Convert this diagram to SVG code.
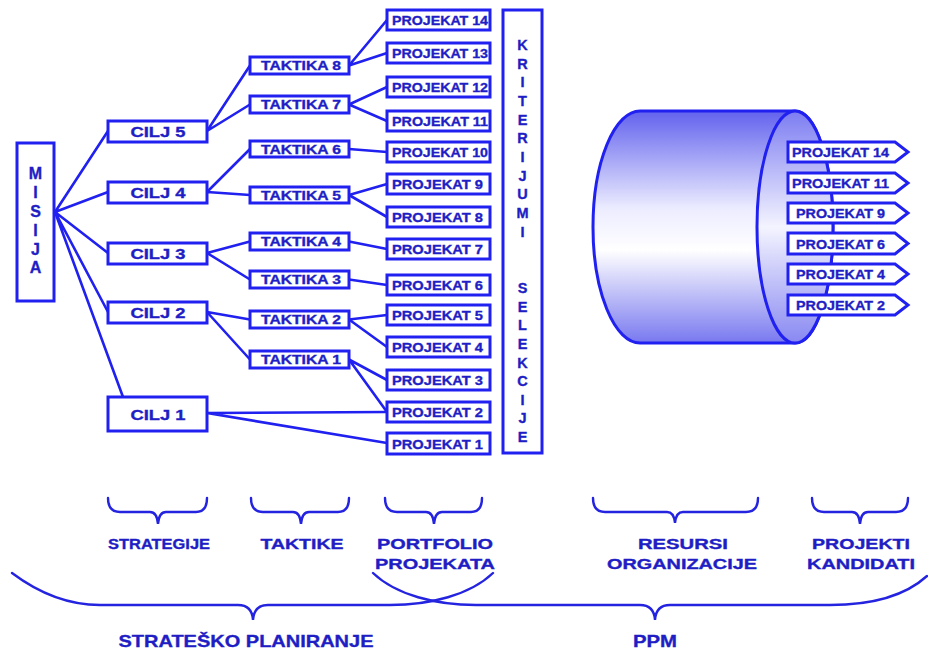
<svg xmlns="http://www.w3.org/2000/svg" width="928" height="650" viewBox="0 0 928 650">
<style>
.box{fill:#fff;stroke:#2020f0;stroke-width:3}
.ln{fill:none;stroke:#2020f0;stroke-width:2.6;stroke-linecap:round}
.br{fill:none;stroke:#2424e0;stroke-width:2.4;stroke-linecap:round}
text{font-family:"Liberation Sans",Arial,sans-serif;font-weight:bold;fill:#1e1ec4;stroke:#1e1ec4;stroke-width:0.35}
.c{text-anchor:middle}
.cl{font-size:15px}
.tk{font-size:13px}
.pr{font-size:13.5px}
.lt{font-size:16px;text-anchor:middle}
.lb{font-size:14.5px;text-anchor:middle}
.big{font-size:17px;text-anchor:middle}
</style>
<defs>
<linearGradient id="cyl" x1="0" y1="0" x2="0" y2="1">
<stop offset="0" stop-color="#6262ee"/>
<stop offset="0.42" stop-color="#ececff"/>
<stop offset="0.6" stop-color="#ffffff"/>
<stop offset="1" stop-color="#7878f0"/>
</linearGradient>
<linearGradient id="face" x1="0" y1="0" x2="0" y2="1">
<stop offset="0" stop-color="#7c7cf2"/>
<stop offset="0.5" stop-color="#f4f4ff"/>
<stop offset="1" stop-color="#8888f2"/>
</linearGradient>
</defs>

<g id="connectors">
<path class="ln" d="M55,212 L108,131 M55,212 L108,192 M55,212 L108,253 M55,212 L108,312 M55,212 L123,397"/>
<path class="ln" d="M207,131 L250,65.5 M207,131 L250,104.5 M207,192 L250,149 M207,192 L250,195 M207,253 L250,241.5 M207,253 L250,279.5 M207,312 L250,319.5 M207,312 L250,359.5 M207,413 L387,412 M207,413 L387,443"/>
<path class="ln" d="M349,65.5 L387,20 M349,65.5 L387,53 M349,104.5 L387,87 M349,104.5 L387,121 M349,149 L387,152 M349,195 L387,184 M349,195 L387,217 M349,241.5 L387,249 M349,279.5 L387,285 M349,319.5 L387,315 M349,319.5 L387,347 M349,359.5 L387,380 M349,359.5 L387,412"/>
</g>

<g id="misija">
<rect class="box" x="17" y="143" width="37" height="158"/>
<text class="lt" x="35.5" y="179">M</text>
<text class="lt" x="35.5" y="198">I</text>
<text class="lt" x="35.5" y="217">S</text>
<text class="lt" x="35.5" y="236">I</text>
<text class="lt" x="35.5" y="255">J</text>
<text class="lt" x="35.5" y="273">A</text>
</g>

<g id="cilj5"><rect class="box" x="108" y="121" width="99" height="21"/><text class="cl c" x="158" y="137" textLength="55" lengthAdjust="spacingAndGlyphs">CILJ 5</text></g>
<g id="cilj4"><rect class="box" x="108" y="182" width="99" height="21"/><text class="cl c" x="158" y="198" textLength="55" lengthAdjust="spacingAndGlyphs">CILJ 4</text></g>
<g id="cilj3"><rect class="box" x="108" y="243" width="99" height="21"/><text class="cl c" x="158" y="259" textLength="55" lengthAdjust="spacingAndGlyphs">CILJ 3</text></g>
<g id="cilj2"><rect class="box" x="108" y="302" width="99" height="21"/><text class="cl c" x="158" y="318" textLength="55" lengthAdjust="spacingAndGlyphs">CILJ 2</text></g>
<g id="cilj1"><rect class="box" x="108" y="397" width="99" height="34"/><text class="cl c" x="158" y="419.5" textLength="55" lengthAdjust="spacingAndGlyphs">CILJ 1</text></g>

<g id="taktika8"><rect class="box" x="250" y="57" width="99" height="17"/><text class="tk c" x="301" y="70" textLength="80" lengthAdjust="spacingAndGlyphs">TAKTIKA 8</text></g>
<g id="taktika7"><rect class="box" x="250" y="96" width="99" height="17"/><text class="tk c" x="301" y="109" textLength="80" lengthAdjust="spacingAndGlyphs">TAKTIKA 7</text></g>
<g id="taktika6"><rect class="box" x="250" y="141" width="99" height="16"/><text class="tk c" x="301" y="153.5" textLength="80" lengthAdjust="spacingAndGlyphs">TAKTIKA 6</text></g>
<g id="taktika5"><rect class="box" x="250" y="187" width="99" height="16"/><text class="tk c" x="301" y="199.5" textLength="80" lengthAdjust="spacingAndGlyphs">TAKTIKA 5</text></g>
<g id="taktika4"><rect class="box" x="250" y="233" width="99" height="17"/><text class="tk c" x="301" y="246" textLength="80" lengthAdjust="spacingAndGlyphs">TAKTIKA 4</text></g>
<g id="taktika3"><rect class="box" x="250" y="271" width="99" height="17"/><text class="tk c" x="301" y="284" textLength="80" lengthAdjust="spacingAndGlyphs">TAKTIKA 3</text></g>
<g id="taktika2"><rect class="box" x="250" y="311" width="99" height="17"/><text class="tk c" x="301" y="324" textLength="80" lengthAdjust="spacingAndGlyphs">TAKTIKA 2</text></g>
<g id="taktika1"><rect class="box" x="250" y="351" width="99" height="17"/><text class="tk c" x="301" y="364" textLength="80" lengthAdjust="spacingAndGlyphs">TAKTIKA 1</text></g>

<g id="projekat14"><rect class="box" x="387" y="10" width="103" height="20"/><text class="pr" x="392" y="25" textLength="96" lengthAdjust="spacingAndGlyphs">PROJEKAT 14</text></g>
<g id="projekat13"><rect class="box" x="387" y="43" width="103" height="20"/><text class="pr" x="392" y="58" textLength="96" lengthAdjust="spacingAndGlyphs">PROJEKAT 13</text></g>
<g id="projekat12"><rect class="box" x="387" y="77" width="103" height="20"/><text class="pr" x="392" y="92" textLength="96" lengthAdjust="spacingAndGlyphs">PROJEKAT 12</text></g>
<g id="projekat11"><rect class="box" x="387" y="111" width="103" height="20"/><text class="pr" x="392" y="126" textLength="96" lengthAdjust="spacingAndGlyphs">PROJEKAT 11</text></g>
<g id="projekat10"><rect class="box" x="387" y="142" width="103" height="20"/><text class="pr" x="392" y="157" textLength="96" lengthAdjust="spacingAndGlyphs">PROJEKAT 10</text></g>
<g id="projekat9"><rect class="box" x="387" y="174" width="103" height="20"/><text class="pr" x="392" y="189" textLength="91" lengthAdjust="spacingAndGlyphs">PROJEKAT 9</text></g>
<g id="projekat8"><rect class="box" x="387" y="207" width="103" height="20"/><text class="pr" x="392" y="222" textLength="91" lengthAdjust="spacingAndGlyphs">PROJEKAT 8</text></g>
<g id="projekat7"><rect class="box" x="387" y="239" width="103" height="20"/><text class="pr" x="392" y="254" textLength="91" lengthAdjust="spacingAndGlyphs">PROJEKAT 7</text></g>
<g id="projekat6"><rect class="box" x="387" y="275" width="103" height="20"/><text class="pr" x="392" y="290" textLength="91" lengthAdjust="spacingAndGlyphs">PROJEKAT 6</text></g>
<g id="projekat5"><rect class="box" x="387" y="305" width="103" height="20"/><text class="pr" x="392" y="320" textLength="91" lengthAdjust="spacingAndGlyphs">PROJEKAT 5</text></g>
<g id="projekat4"><rect class="box" x="387" y="337" width="103" height="20"/><text class="pr" x="392" y="352" textLength="91" lengthAdjust="spacingAndGlyphs">PROJEKAT 4</text></g>
<g id="projekat3"><rect class="box" x="387" y="370" width="103" height="20"/><text class="pr" x="392" y="385" textLength="91" lengthAdjust="spacingAndGlyphs">PROJEKAT 3</text></g>
<g id="projekat2"><rect class="box" x="387" y="402" width="103" height="20"/><text class="pr" x="392" y="417" textLength="91" lengthAdjust="spacingAndGlyphs">PROJEKAT 2</text></g>
<g id="projekat1"><rect class="box" x="387" y="433" width="103" height="21"/><text class="pr" x="392" y="449" textLength="91" lengthAdjust="spacingAndGlyphs">PROJEKAT 1</text></g>

<g id="kriterijumi">
<rect class="box" x="503" y="10" width="39" height="443"/>
<text class="lb" x="522.5" y="50">K</text>
<text class="lb" x="522.5" y="69">R</text>
<text class="lb" x="522.5" y="87">I</text>
<text class="lb" x="522.5" y="106">T</text>
<text class="lb" x="522.5" y="125">E</text>
<text class="lb" x="522.5" y="143">R</text>
<text class="lb" x="522.5" y="162">I</text>
<text class="lb" x="522.5" y="181">J</text>
<text class="lb" x="522.5" y="199">U</text>
<text class="lb" x="522.5" y="218">M</text>
<text class="lb" x="522.5" y="237">I</text>
<text class="lb" x="522.5" y="293">S</text>
<text class="lb" x="522.5" y="312">E</text>
<text class="lb" x="522.5" y="330">L</text>
<text class="lb" x="522.5" y="349">E</text>
<text class="lb" x="522.5" y="368">K</text>
<text class="lb" x="522.5" y="386">C</text>
<text class="lb" x="522.5" y="405">I</text>
<text class="lb" x="522.5" y="423">J</text>
<text class="lb" x="522.5" y="442">E</text>
</g>

<g id="resursi-cilindar">
<path d="M640,111 L795,111 A38,116 0 0 1 795,343 L640,343 A47,116 0 0 1 640,111 Z" fill="url(#cyl)" stroke="#2020f0" stroke-width="3"/>
<ellipse cx="795" cy="227" rx="38" ry="116" fill="url(#face)" stroke="#2020f0" stroke-width="3"/>
</g>

<g id="kandidati">
<g id="tag14"><path class="box" d="M788,142 L895,142 L908,152 L895,162 L788,162 Z"/><text class="pr" x="792" y="157" textLength="97" lengthAdjust="spacingAndGlyphs">PROJEKAT 14</text></g>
<g id="tag11"><path class="box" d="M788,173 L895,173 L908,183 L895,193 L788,193 Z"/><text class="pr" x="792" y="188" textLength="97" lengthAdjust="spacingAndGlyphs">PROJEKAT 11</text></g>
<g id="tag9"><path class="box" d="M788,203 L895,203 L908,213 L895,223 L788,223 Z"/><text class="pr" x="796" y="218" textLength="89" lengthAdjust="spacingAndGlyphs">PROJEKAT 9</text></g>
<g id="tag6"><path class="box" d="M788,233 L895,233 L908,243.5 L895,254 L788,254 Z"/><text class="pr" x="796" y="248.5" textLength="89" lengthAdjust="spacingAndGlyphs">PROJEKAT 6</text></g>
<g id="tag4"><path class="box" d="M788,264 L895,264 L908,274 L895,284 L788,284 Z"/><text class="pr" x="796" y="279" textLength="89" lengthAdjust="spacingAndGlyphs">PROJEKAT 4</text></g>
<g id="tag2"><path class="box" d="M788,295 L895,295 L908,305 L895,315 L788,315 Z"/><text class="pr" x="796" y="310" textLength="89" lengthAdjust="spacingAndGlyphs">PROJEKAT 2</text></g>
</g>

<g id="zagrade">
<path class="br" d="M108,498 Q108,512 120,512 L150,512 Q157,512 158,524 Q159,512 166,512 L196,512 Q207,512 207,498"/>
<path class="br" d="M251,498 Q251,512 263,512 L293,512 Q300,512 301,524 Q302,512 309,512 L338,512 Q349,512 349,498"/>
<path class="br" d="M385,498 Q385,512 397,512 L426,512 Q433,512 434,524 Q435,512 442,512 L471,512 Q482,512 482,498"/>
<path class="br" d="M593,498 Q593,512 605,512 L667,512 Q674,512 675,523 Q676,512 683,512 L746,512 Q758,512 758,498"/>
<path class="br" d="M812,498 Q812,512 824,512 L852,512 Q859,512 860,524 Q861,512 868,512 L896,512 Q908,512 908,498"/>
<path class="br" d="M12,573 C40,594 70,605 100,605 L238,605 Q252,605 253,620 Q254,605 268,605 L390,605 C430,605 470,595 493,573"/>
<path class="br" d="M373,573 C396,595 436,605 476,605 L640,605 Q654,605 655,620 Q656,605 670,605 L830,605 C870,605 905,596 927,576"/>
</g>

<g id="oznake">
<text class="lb" x="159" y="549" textLength="102" lengthAdjust="spacingAndGlyphs">STRATEGIJE</text>
<text class="lb" x="302" y="549" textLength="83" lengthAdjust="spacingAndGlyphs">TAKTIKE</text>
<text class="lb" x="435" y="549" textLength="116" lengthAdjust="spacingAndGlyphs">PORTFOLIO</text>
<text class="lb" x="435" y="569" textLength="120" lengthAdjust="spacingAndGlyphs">PROJEKATA</text>
<text class="lb" x="683" y="549" textLength="90" lengthAdjust="spacingAndGlyphs">RESURSI</text>
<text class="lb" x="682" y="569" textLength="150" lengthAdjust="spacingAndGlyphs">ORGANIZACIJE</text>
<text class="lb" x="861" y="549" textLength="98" lengthAdjust="spacingAndGlyphs">PROJEKTI</text>
<text class="lb" x="861" y="569" textLength="108" lengthAdjust="spacingAndGlyphs">KANDIDATI</text>
<text class="big" x="246" y="647" textLength="255" lengthAdjust="spacingAndGlyphs">STRATEŠKO PLANIRANJE</text>
<text class="big" x="655" y="647" textLength="44" lengthAdjust="spacingAndGlyphs">PPM</text>
</g>
</svg>
